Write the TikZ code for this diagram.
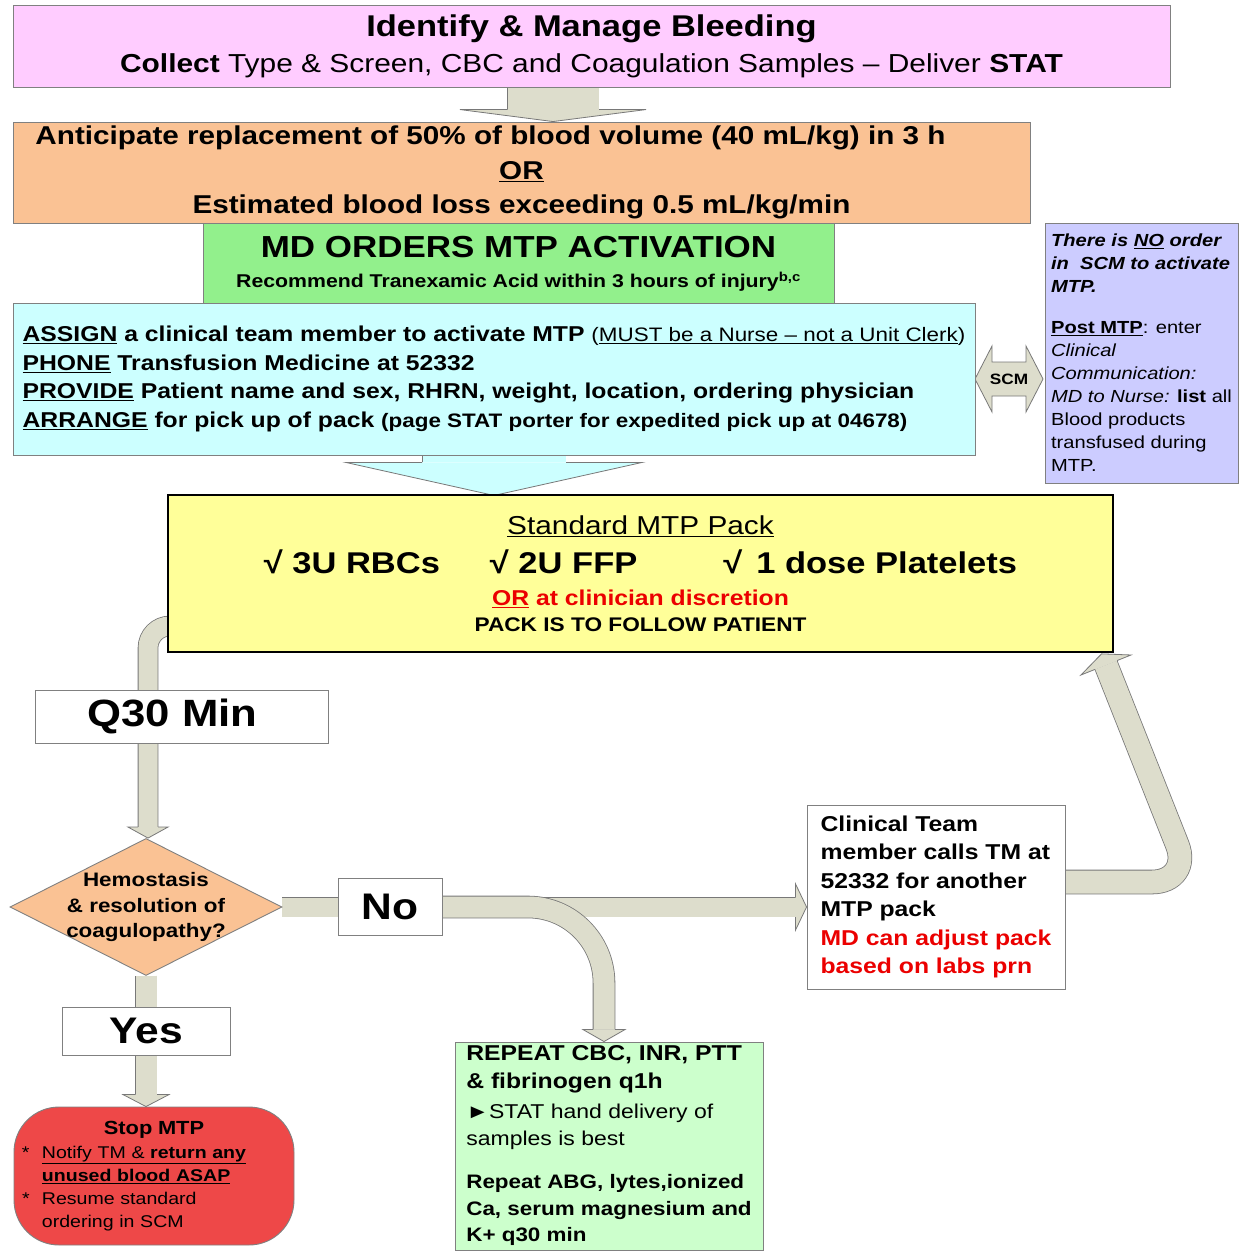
\documentclass[tikz,border=0pt]{standalone}
\usepackage{fontspec}
\setmainfont{Liberation Sans}[FakeStretch=1.15]
\usepackage{tikz}
\usetikzlibrary{shapes.geometric,calc}

\definecolor{pinkfill}{RGB}{255,204,255}
\definecolor{orangefill}{RGB}{250,194,148}
\definecolor{mdgreen}{RGB}{146,240,140}
\definecolor{cyanfill}{RGB}{204,255,255}
\definecolor{lilac}{RGB}{204,204,255}
\definecolor{packyellow}{RGB}{255,255,153}
\definecolor{stopred}{RGB}{238,72,72}
\definecolor{labgreen}{RGB}{204,255,204}
\definecolor{flowfill}{RGB}{221,221,204}
\definecolor{flowedge}{RGB}{120,120,120}
\definecolor{boxedge}{RGB}{128,128,128}
\definecolor{alertred}{RGB}{235,0,0}

\pgfdeclarelayer{background}
\pgfsetlayers{background,main}

\newcommand{\fsz}[2]{\fontsize{#1}{#2}\selectfont}
\newcommand{\blockhead}[6][flowfill]{%
    \fill[#1, shift={(#2)}, rotate=#3] (0,#4) -- (#5,0) -- (0,-#4) -- cycle;
    \draw[flowedge, line width=0.8pt, shift={(#2)}, rotate=#3] (0,#6) -- (0,#4) -- (#5,0) -- (0,-#4) -- (0,-#6);
}

\tikzset{
    box/.style={draw=boxedge, line width=0.9pt, inner sep=0pt, align=center},
    flow/.style={draw=flowedge, line width=0.8pt, double=flowfill, double distance=#1},
}

\begin{document}
\begin{tikzpicture}[x=1pt, y=-1pt]
    \useasboundingbox (0,0) rectangle (1240,1254);

    \node[box, fill=pinkfill, minimum width=1157pt, minimum height=82pt, font=\fsz{26}{36.5}] (bleed) at (591.5,46.5)
        {{\fsz{30}{36.5}\bfseries Identify \& Manage Bleeding}\\ \textbf{Collect} Type \& Screen, CBC and Coagulation Samples -- Deliver \textbf{STAT}};
    \node[box, fill=orangefill, minimum width=1017pt, minimum height=101pt, font=\fsz{25.8}{34.5}\bfseries] (crit) at (521.5,172.5)
        {Anticipate replacement of 50\% of blood volume (40 mL/kg) in 3 h\hspace*{62pt}\\ \underline{OR}\\ Estimated blood loss exceeding 0.5 mL/kg/min};
    \node[box, fill=mdgreen, minimum width=631pt, minimum height=81pt, font=\fsz{18.5}{30.5}\bfseries] (orders) at (518.5,264)
        {{\fsz{30.4}{30.5}MD ORDERS MTP ACTIVATION}\\ Recommend Tranexamic Acid within 3 hours of injury\textsuperscript{b,c}};
    \node[box, fill=cyanfill, minimum width=962pt, minimum height=152pt, align=left, font=\fsz{21.5}{28.7}\bfseries] (steps) at (494,379)
        {\underline{ASSIGN} a clinical team member to activate MTP {\fsz{19.5}{28.7}\mdseries(\underline{MUST be a Nurse -- not a Unit Clerk})}\\
         \underline{PHONE} Transfusion Medicine at 52332\\
         \underline{PROVIDE} Patient name and sex, RHRN, weight, location, ordering physician\\
         \underline{ARRANGE} for pick up of pack {\fsz{19.5}{28.7}(page STAT porter for expedited pick up at 04678)}};
    \node[box, fill=lilac, minimum width=193pt, minimum height=260pt, align=left, font=\fsz{17.5}{23}] (post) at (1141.5,353)
        {\textbf{\textit{There is \underline{NO} order}}\\ \textbf{\textit{in\ \ SCM to activate}}\\ \textbf{\textit{MTP.}}\\[18pt]
         \textbf{\underline{Post MTP}}: enter\\ \textit{Clinical}\\ \textit{Communication:}\\ \textit{MD to Nurse:} \textbf{list} all\\
         Blood products\\ transfused during\\ MTP.};
    \node[font=\fsz{15}{18}\bfseries, inner sep=0pt] (scm) at (1009,379) {SCM};
    \node[draw=black, line width=2pt, fill=packyellow, minimum width=945pt, minimum height=157pt, inner sep=0pt, align=center, font=\fsz{19.7}{26}\bfseries] (pack) at (640.5,573.5)
        {{\fsz{25.9}{26}\mdseries\underline{Standard MTP Pack}}\\[13.7pt]
         {\fsz{30}{26}√ 3U RBCs\hspace{50pt}√ 2U FFP\hspace{86pt}√\hspace{14pt}1 dose Platelets}\\[5.3pt]
         {\fsz{21.5}{26}\color{alertred}\underline{OR} at clinician discretion}\\
         PACK IS TO FOLLOW PATIENT};
    \node[box, fill=white, minimum width=293pt, minimum height=53pt, font=\fsz{38}{40}\bfseries] (q30) at (181.5,716.5) {Q30 Min\hspace*{18pt}};
    \node[diamond, draw=boxedge, line width=0.9pt, fill=orangefill, minimum width=272pt, minimum height=137pt, inner sep=0pt,
        label={[font=\fsz{19.5}{25.5}\bfseries, align=center]center:{Hemostasis\\ \& resolution of\\ coagulopathy?}}] (dec) at (146,907) {};
    \node[box, fill=white, minimum width=104pt, minimum height=57pt, font=\fsz{37}{40}\bfseries] (no) at (390,907) {No};
    \node[box, fill=white, minimum width=168pt, minimum height=48pt, font=\fsz{37}{40}\bfseries] (yes) at (146,1031) {Yes};
    \node[box, fill=stopred, rounded corners=45pt, minimum width=280pt, minimum height=138pt, text width=264pt, align=left, font=\fsz{17}{23}] (stop) at (154,1176)
        {\makebox[264pt]{\fsz{19}{23}\bfseries Stop MTP}\\[1pt]
         \makebox[20pt][l]{*}\underline{Notify TM \& \textbf{return any}}\\
         \hspace*{20pt}\textbf{\underline{unused blood ASAP}}\\
         \makebox[20pt][l]{*}Resume standard\\
         \hspace*{20pt}ordering in SCM};
    \node[box, fill=labgreen, minimum width=308pt, minimum height=208pt, align=left, font=\fsz{20}{26.5}] (repeat) at (609,1146)
        {{\fsz{21.5}{26.5}\bfseries REPEAT CBC, INR, PTT}\\[1.5pt]
         {\fsz{21.5}{26.5}\bfseries\& fibrinogen q1h}\\[3.5pt]
         ►STAT hand delivery of\\[0.5pt]
         samples is best\\[16.5pt]
         {\fsz{19.5}{26.5}\bfseries Repeat ABG, lytes,ionized}\\
         {\fsz{19.5}{26.5}\bfseries Ca, serum magnesium and}\\
         {\fsz{19.5}{26.5}\bfseries K+ q30 min}};
    \node[box, fill=white, minimum width=258pt, minimum height=184pt, align=left, font=\fsz{21.5}{28.4}\bfseries] (clin) at (936,897)
        {Clinical Team\\ member calls TM at\\ 52332 for another\\ MTP pack\\ {\color{alertred}MD can adjust pack}\\ {\color{alertred}based on labs prn}};

    \begin{pgfonlayer}{background}
        \fill[white] (0,0) rectangle (1240,1254);

        \coordinate (h1) at ($(crit.north)+(31.5,-12)$);
        \draw[flow=91pt] ($(bleed.south)+(-38.5,0)$) -- (h1);
        \blockhead{h1}{-90}{93}{12}{46}

        \coordinate (h2) at ($(steps.south)+(0,7)$);
        \draw[flow=143pt, double=cyanfill] ($(steps.south)+(0,-5)$) -- (h2);
        \blockhead[cyanfill]{h2}{-90}{148}{33}{72}

        \filldraw[fill=flowfill, draw=flowedge, line width=0.8pt, shift={(scm.center)}]
            (-34,0) -- (-17,-33) -- (-17,-17) -- (17,-17) -- (17,-33) -- (34,0) -- (17,33) -- (17,17) -- (-17,17) -- (-17,33) -- cycle;

        \coordinate (loopbend) at (148,626);
        \coordinate (h3) at ($(loopbend |- dec.north)+(0,-11)$);
        \draw[flow=19pt, rounded corners=22pt] ($(pack.west |- loopbend)+(20,0)$) -- (loopbend) -- (h3);
        \blockhead{h3}{-90}{20}{11}{10}

        \coordinate (h4) at ($(dec.south |- stop.north)+(0,-12)$);
        \draw[flow=21pt] (dec.south) -- (h4);
        \blockhead{h4}{-90}{23}{12}{11}

        \coordinate (h5) at ($(dec.east -| clin.west)+(-11,0)$);
        \draw[flow=19pt] (dec.east) -- (h5);
        \blockhead{h5}{0}{23}{11}{10}

        \coordinate (nobend) at (604,907);
        \coordinate (h6) at ($(nobend |- repeat.north)+(0,-12)$);
        \draw[flow=21pt, rounded corners=76pt] (no.east) -- (nobend) -- (h6);
        \blockhead{h6}{-90}{21}{12}{11}

        \coordinate (retbend) at (1192,882);
        \coordinate (h7) at ($(pack.south east)+(-8,12)$);
        \draw[flow=23pt, rounded corners=40pt] ($(clin.east)+(0,-15)$) -- (retbend) -- (h7);
        \blockhead{h7}{111.8}{27}{12}{12}
    \end{pgfonlayer}
\end{tikzpicture}
\end{document}
